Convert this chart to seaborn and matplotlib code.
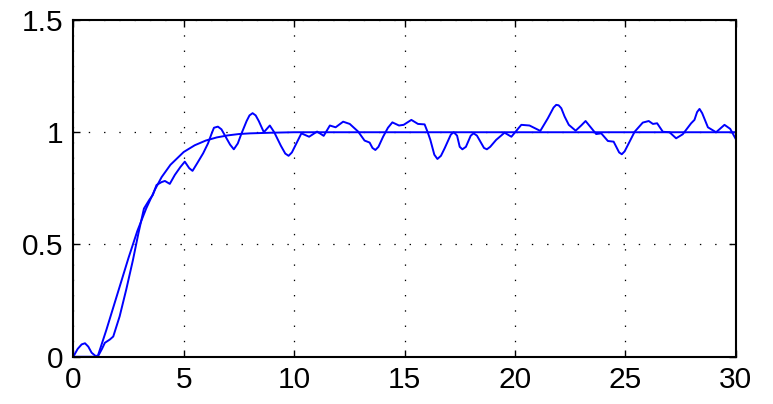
import matplotlib
matplotlib.use("Agg")
import matplotlib.pyplot as plt
import numpy as np
import pandas as pd
import seaborn as sns

# Time axis and ideal step response
t_model = [0, 1.1, 1.5, 2.0, 2.5, 2.9, 3.3, 3.7, 4.0, 4.4, 5.0, 5.5, 6.0,
           6.5, 7.0, 7.5, 8.0, 9.0, 10.0, 12.0, 30.0]
y_model = [0, 0, 0.12, 0.28, 0.44, 0.56, 0.66, 0.745, 0.80, 0.855, 0.912,
           0.942, 0.963, 0.977, 0.986, 0.992, 0.995, 0.998, 1.0, 1.0, 1.0]

# Measured (noisy) response
t_meas = [0, 0.2, 0.38, 0.53, 0.68, 0.83, 1.0, 1.13, 1.3, 1.43, 1.66, 1.81,
          2.1, 2.4, 2.7, 2.95, 3.2, 3.45, 3.6, 3.77, 4.0, 4.15, 4.37, 4.6,
          4.85, 5.05, 5.25, 5.4, 5.6, 5.88, 6.1, 6.25, 6.37, 6.55, 6.71, 6.9,
          7.1, 7.27, 7.45, 7.6, 7.85, 7.98, 8.12, 8.26, 8.4, 8.63, 8.9, 9.1,
          9.4, 9.6, 9.75, 9.9, 10.1, 10.33, 10.68, 11.04, 11.34, 11.62, 11.88,
          12.22, 12.52, 12.9, 13.19, 13.42, 13.55, 13.68, 13.82, 14.03, 14.25,
          14.45, 14.75, 14.96, 15.31, 15.61, 15.91, 16.05, 16.17, 16.35, 16.49,
          16.65, 16.82, 17.1, 17.23, 17.38, 17.5, 17.62, 17.78, 18.0, 18.13,
          18.28, 18.6, 18.73, 18.88, 19.15, 19.53, 19.84, 20.05, 20.29, 20.66,
          21.15, 21.49, 21.75, 21.87, 21.98, 22.1, 22.25, 22.44, 22.75, 23.0,
          23.2, 23.45, 23.68, 23.91, 24.21, 24.47, 24.72, 24.84, 24.97, 25.1,
          25.42, 25.79, 26.06, 26.25, 26.44, 26.7, 27.0, 27.3, 27.6, 27.98,
          28.13, 28.25, 28.36, 28.48, 28.74, 29.11, 29.49, 29.75, 30.0]
y_meas = [0, 0.035, 0.055, 0.06, 0.045, 0.018, 0.004, 0.004, 0.035, 0.062,
          0.077, 0.09, 0.18, 0.30, 0.43, 0.55, 0.66, 0.70, 0.72, 0.765, 0.778,
          0.783, 0.77, 0.81, 0.845, 0.869, 0.84, 0.828, 0.86, 0.906, 0.95,
          0.99, 1.02, 1.025, 1.013, 0.98, 0.945, 0.924, 0.95, 0.99, 1.05,
          1.075, 1.085, 1.075, 1.05, 1.0, 1.03, 1.0, 0.94, 0.905, 0.895, 0.91,
          0.95, 0.995, 0.98, 1.003, 0.984, 1.03, 1.022, 1.047, 1.037, 1.003,
          0.963, 0.954, 0.93, 0.921, 0.935, 0.98, 1.02, 1.044, 1.03, 1.033,
          1.055, 1.037, 1.035, 1.0, 0.966, 0.9, 0.881, 0.895, 0.929, 0.99,
          1.0, 0.985, 0.935, 0.924, 0.935, 0.985, 0.995, 0.985, 0.93, 0.924,
          0.935, 0.966, 0.998, 0.98, 1.005, 1.033, 1.03, 1.006, 1.062, 1.11,
          1.122, 1.12, 1.107, 1.07, 1.033, 1.007, 1.03, 1.05, 1.02, 0.992,
          0.995, 0.961, 0.958, 0.91, 0.902, 0.915, 0.94, 1.002, 1.043, 1.05,
          1.037, 1.04, 1.002, 1.0, 0.973, 0.991, 1.04, 1.055, 1.09, 1.104,
          1.085, 1.022, 1.0, 1.033, 1.015, 0.97]

x_ticks = [0, 5, 10, 15, 20, 25, 30]
y_ticks = [0, 0.5, 1, 1.5]
y_tick_labels = ["0", "0.5", "1", "1.5"]

sns.set_theme(style="white")
plt.rcParams["font.family"] = ["Liberation Sans", "DejaVu Sans"]
plt.rcParams["lines.scale_dashes"] = False

fig = plt.figure(figsize=(7.73, 4.04), dpi=100)
ax = fig.add_axes([0.0948, 0.117, 0.857, 0.8335])

df_model = pd.DataFrame({"t": t_model, "y": y_model})
df_meas = pd.DataFrame({"t": t_meas, "y": y_meas})

for df in (df_model, df_meas):
    sns.lineplot(data=df, x="t", y="y", ax=ax, color=(0, 0, 1),
                 linewidth=1.4, estimator=None,
                 solid_joinstyle="round", solid_capstyle="round")

ax.set_xlim(0, 30)
ax.set_ylim(0, 1.5)
ax.set_xticks(x_ticks)
ax.set_xticklabels([str(v) for v in x_ticks])
ax.set_yticks(y_ticks)
ax.set_yticklabels(y_tick_labels)
ax.set_xlabel("")
ax.set_ylabel("")

ax.grid(True, color="black", linestyle=(0, (1.0, 10.0)), linewidth=0.9)
ax.tick_params(axis="both", direction="in", length=5, width=1,
               labelsize=21.5, colors="black", top=True, right=True,
               bottom=True, left=True)
ax.tick_params(axis="x", pad=7)
ax.tick_params(axis="y", pad=7)
for sp in ax.spines.values():
    sp.set_visible(True)
    sp.set_color("black")
    sp.set_linewidth(1.5)

fig.savefig("out.png", dpi=100, facecolor="white")
